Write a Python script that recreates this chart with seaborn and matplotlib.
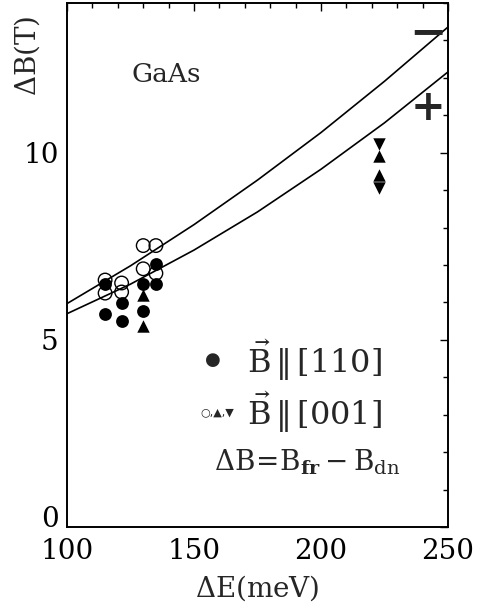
import numpy as np
import pandas as pd
import matplotlib
matplotlib.use("Agg")
import matplotlib.pyplot as plt
import seaborn as sns
from matplotlib.ticker import MultipleLocator

# Measured splittings: excitation energy (meV) vs. Delta B (T)
e_110 = [115, 115, 121.5, 121.5, 130, 130, 135, 135]
b_110 = [6.50, 5.70, 5.98, 5.50, 6.50, 5.76, 7.03, 6.50]

e_001_open = [115, 115, 121.5, 121.5, 130, 130, 135, 135]
b_001_open = [6.60, 6.25, 6.52, 6.28, 7.52, 6.90, 7.52, 6.78]

e_001_up = [130, 130, 223, 223]
b_001_up = [6.19, 5.37, 9.92, 9.41]

e_001_down = [223, 223]
b_001_down = [10.24, 9.07]

# Calculated curves for the two spin branches
e_curve = [100, 125, 150, 175, 200, 225, 250]
b_minus = [5.97, 6.98, 8.08, 9.27, 10.54, 11.91, 13.36]
b_plus = [5.70, 6.49, 7.40, 8.42, 9.56, 10.80, 12.16]

sns.set_theme(style="white")
plt.rcParams["font.family"] = ["DejaVu Serif", "DejaVu Sans"]
plt.rcParams["mathtext.fontset"] = "dejavuserif"

fig = plt.figure(figsize=(4.87, 6.10), dpi=100)
ax = fig.add_axes([0.1376, 0.136, 0.7823, 0.859])

curves = pd.DataFrame({
    "E": e_curve * 2,
    "B": b_minus + b_plus,
    "branch": ["-"] * len(e_curve) + ["+"] * len(e_curve),
})
sns.lineplot(data=curves, x="E", y="B", units="branch", estimator=None,
             color="black", lw=1.2, ax=ax)

sns.scatterplot(x=e_110, y=b_110, marker="o", s=85, color="black",
                edgecolor="black", linewidth=0, ax=ax, zorder=3)
sns.scatterplot(x=e_001_open, y=b_001_open, marker="o", s=95, facecolor="none",
                edgecolor="black", linewidth=1.0, ax=ax, zorder=3)
sns.scatterplot(x=e_001_up, y=b_001_up, marker="^", s=80, color="black",
                edgecolor="black", linewidth=0, ax=ax, zorder=3)
sns.scatterplot(x=e_001_down, y=b_001_down, marker="v", s=80, color="black",
                edgecolor="black", linewidth=0, ax=ax, zorder=3)

ax.set_xlim(100, 250)
ax.set_ylim(0, 14)
ax.xaxis.set_major_locator(MultipleLocator(50))
ax.xaxis.set_minor_locator(MultipleLocator(10))
ax.yaxis.set_major_locator(MultipleLocator(5))
ax.yaxis.set_minor_locator(MultipleLocator(1))
ax.tick_params(which="both", direction="in", top=True, right=True,
               colors="black", labelsize=20, width=1.0)
ax.tick_params(which="major", length=6)
ax.tick_params(axis="y", which="major", pad=6)
ax.tick_params(axis="x", which="major", pad=8)
ax.tick_params(which="minor", length=3.5)
for sp in ax.spines.values():
    sp.set_color("black")
    sp.set_linewidth(1.4)

ax.set_ylabel("")
ax.set_xlabel(r"$\Delta$E(meV)", fontsize=20, labelpad=6)
ax.text(-0.105, 0.90, r"$\Delta$B(T)", fontsize=20, rotation=90,
        ha="center", va="center", transform=ax.transAxes)

# rest the zero label on the axis line, clear of the x tick labels
fig.canvas.draw()
for lbl in ax.get_yticklabels():
    if lbl.get_text() in ("0", "\u22120") and abs(lbl.get_position()[1]) < 1e-9:
        lbl.set_verticalalignment("baseline")
        lbl.set_y(0.0)

ax.text(139, 12.1, "GaAs", fontsize=19, ha="center", va="center")
ax.text(242, 13.2, "\u2212", fontsize=32, fontweight="bold", ha="center", va="center")
ax.text(242, 11.2, "+", fontsize=30, fontweight="bold", ha="center", va="center")

ax.text(157.5, 4.45, "\u25cf", fontsize=13, ha="center", va="center",
        family=["DejaVu Sans"])
ax.text(171, 4.45, r"$\vec{\mathrm{B}}\,\|\,[110]$", fontsize=23, ha="left", va="center")
ax.text(159, 3.07, "\u25cb,\u25b2,\u25bc", fontsize=8, ha="center", va="center",
        family=["DejaVu Sans"])
ax.text(171, 3.07, r"$\vec{\mathrm{B}}\,\|\,[001]$", fontsize=23, ha="left", va="center")
ax.text(158, 1.73, r"$\Delta\mathrm{B}\!=\!\mathrm{B}_{\mathbf{fr}}-\mathrm{B}_{\mathrm{dn}}$",
        fontsize=20, ha="left", va="center")

fig.savefig("out.png", dpi=100, facecolor="white")
